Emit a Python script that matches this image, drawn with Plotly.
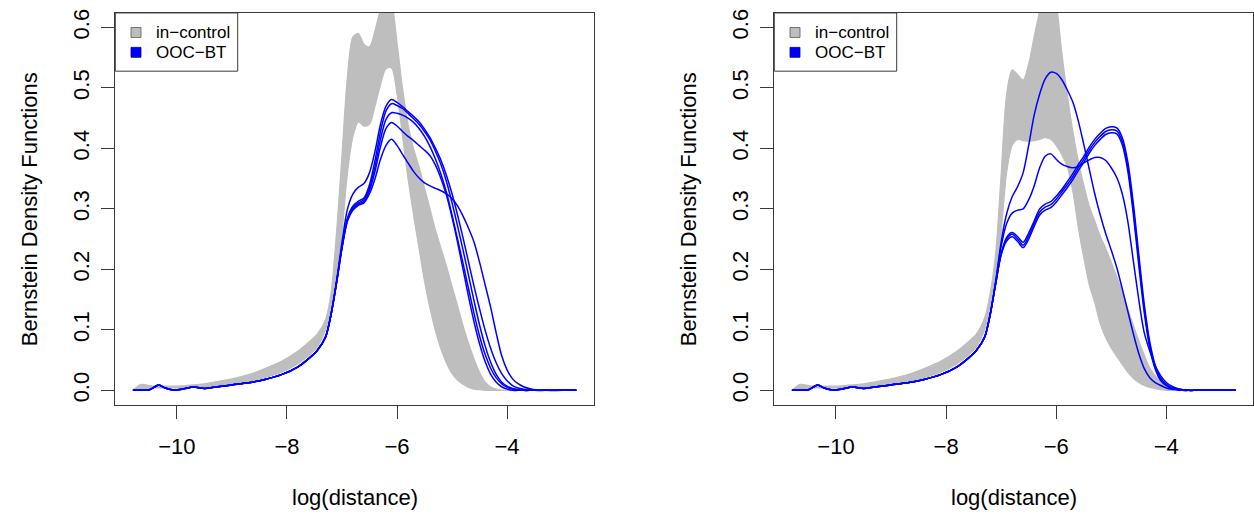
import plotly.graph_objects as go

W, H = 1254, 520

# ---------------- data ----------------
# shared left tail (x < -7.5), identical in both panels
tail_x = [-10.8, -10.65, -10.5, -10.4, -10.33, -10.2, -10.05, -9.9, -9.7, -9.5,
          -9.3, -9.0, -8.7, -8.4, -8.1, -7.8, -7.6]
blue_tail = [0.0, 0.0003, 0.001, 0.006, 0.0087, 0.0035, 0.0007, 0.002, 0.0055, 0.0032,
             0.0055, 0.009, 0.0125, 0.018, 0.026, 0.039, 0.053]
grey_tail_lo = [0.0, 0.001, 0.003, 0.004, 0.004, 0.004, 0.004, 0.004, 0.005, 0.006,
                0.0075, 0.0105, 0.015, 0.021, 0.03, 0.044, 0.058]
grey_tail_hi = [0.0, 0.010, 0.008, 0.007, 0.007, 0.007, 0.007, 0.0075, 0.009, 0.011,
                0.014, 0.019, 0.026, 0.036, 0.048, 0.065, 0.08]

body_x = [-7.45, -7.3, -7.2, -7.1, -7.0, -6.9, -6.8, -6.7, -6.6, -6.5,
          -6.4, -6.3, -6.2, -6.1, -6.0, -5.9, -5.8, -5.7, -5.6, -5.5,
          -5.4, -5.3, -5.2, -5.1, -5.0, -4.9, -4.8, -4.7, -4.6, -4.5,
          -4.4, -4.3, -4.2, -4.1, -4.0, -3.9, -3.8, -3.7, -3.6, -3.5,
          -3.3, -3.0, -2.74]

# left panel: in-control band (lower / upper envelope of the grey curves)
left_grey_lo = [0.072, 0.10, 0.135, 0.18, 0.26, 0.36, 0.42, 0.444, 0.437, 0.44,
                0.47, 0.505, 0.532, 0.533, 0.49, 0.42, 0.35, 0.29, 0.235, 0.18,
                0.135, 0.098, 0.068, 0.045, 0.028, 0.017, 0.01, 0.005, 0.002, 0.001,
                0.0, 0.0, 0.0, 0.0, 0.0, 0.0, 0.0, 0.0, 0.0, 0.0,
                0.0, 0.0, 0.0]
left_grey_hi = [0.093, 0.117, 0.16, 0.26, 0.39, 0.52, 0.585, 0.59, 0.572, 0.568,
                0.595, 0.63, 0.652, 0.64, 0.575, 0.50, 0.44, 0.40, 0.37, 0.335,
                0.30, 0.265, 0.235, 0.205, 0.172, 0.14, 0.107, 0.078, 0.052, 0.03,
                0.014, 0.006, 0.002, 0.0, 0.0, 0.0, 0.0, 0.0, 0.0, 0.0,
                0.0, 0.0, 0.0]

# left panel: OOC-BT curves
left_blue_1 = [0.066, 0.088, 0.125, 0.18, 0.245, 0.30, 0.325, 0.336, 0.342, 0.36,
               0.395, 0.44, 0.47, 0.481, 0.476, 0.469, 0.461, 0.453, 0.444, 0.432,
               0.418, 0.40, 0.38, 0.355, 0.325, 0.29, 0.252, 0.212, 0.172, 0.135,
               0.10, 0.07, 0.046, 0.028, 0.016, 0.008, 0.004, 0.002, 0.001, 0.0,
               0.0, 0.0, 0.0]
left_blue_2 = [0.066, 0.088, 0.125, 0.178, 0.238, 0.285, 0.305, 0.313, 0.318, 0.34,
               0.38, 0.428, 0.462, 0.474, 0.471, 0.466, 0.458, 0.449, 0.44, 0.428,
               0.414, 0.395, 0.373, 0.345, 0.31, 0.272, 0.232, 0.19, 0.148, 0.108,
               0.074, 0.047, 0.027, 0.014, 0.007, 0.003, 0.001, 0.0, 0.0, 0.0,
               0.0, 0.0, 0.0]
left_blue_3 = [0.066, 0.088, 0.125, 0.178, 0.237, 0.283, 0.303, 0.31, 0.315, 0.335,
               0.37, 0.415, 0.448, 0.459, 0.458, 0.455, 0.45, 0.443, 0.433, 0.42,
               0.403, 0.382, 0.357, 0.327, 0.29, 0.25, 0.21, 0.168, 0.127, 0.09,
               0.06, 0.037, 0.021, 0.011, 0.005, 0.002, 0.001, 0.0, 0.0, 0.0,
               0.0, 0.0, 0.0]
left_blue_4 = [0.066, 0.088, 0.125, 0.177, 0.236, 0.282, 0.30, 0.308, 0.312, 0.33,
               0.362, 0.403, 0.433, 0.443, 0.437, 0.428, 0.42, 0.413, 0.405, 0.397,
               0.388, 0.372, 0.35, 0.322, 0.286, 0.245, 0.20, 0.155, 0.113, 0.077,
               0.048, 0.027, 0.014, 0.006, 0.002, 0.0, 0.0, 0.0, 0.0, 0.0,
               0.0, 0.0, 0.0]
left_blue_5 = [0.066, 0.088, 0.125, 0.177, 0.235, 0.28, 0.298, 0.306, 0.31, 0.325,
               0.35, 0.382, 0.405, 0.415, 0.405, 0.39, 0.376, 0.362, 0.351, 0.343,
               0.338, 0.334, 0.33, 0.325, 0.317, 0.305, 0.288, 0.268, 0.245, 0.212,
               0.175, 0.138, 0.096, 0.058, 0.034, 0.019, 0.011, 0.006, 0.003, 0.001,
               0.0, 0.0, 0.0]

# right panel: in-control band
right_grey_lo = [0.072, 0.10, 0.133, 0.175, 0.26, 0.36, 0.405, 0.415, 0.413, 0.412,
                 0.413, 0.415, 0.418, 0.415, 0.405, 0.39, 0.37, 0.33, 0.27, 0.22,
                 0.175, 0.145, 0.11, 0.087, 0.07, 0.056, 0.043, 0.03, 0.02, 0.013,
                 0.008, 0.005, 0.003, 0.001, 0.0, 0.0, 0.0, 0.0, 0.0, 0.0,
                 0.0, 0.0, 0.0]
right_grey_hi = [0.093, 0.12, 0.16, 0.226, 0.357, 0.49, 0.53, 0.522, 0.513, 0.54,
                 0.585, 0.628, 0.67, 0.675, 0.64, 0.56, 0.49, 0.43, 0.38, 0.34,
                 0.305, 0.28, 0.255, 0.235, 0.212, 0.188, 0.162, 0.135, 0.108, 0.082,
                 0.058, 0.037, 0.024, 0.015, 0.008, 0.003, 0.001, 0.0, 0.0, 0.0,
                 0.0, 0.0, 0.0]

# right panel: OOC-BT curves
right_blue_1 = [0.066, 0.088, 0.125, 0.18, 0.245, 0.292, 0.32, 0.337, 0.36, 0.405,
                0.455, 0.49, 0.515, 0.526, 0.524, 0.514, 0.497, 0.477, 0.446, 0.407,
                0.366, 0.325, 0.29, 0.259, 0.232, 0.203, 0.168, 0.131, 0.094, 0.061,
                0.036, 0.021, 0.013, 0.008, 0.004, 0.002, 0.001, 0.0, 0.0, 0.0,
                0.0, 0.0, 0.0]
right_blue_2 = [0.066, 0.088, 0.125, 0.178, 0.238, 0.276, 0.293, 0.298, 0.30, 0.315,
                0.338, 0.368, 0.387, 0.391, 0.382, 0.374, 0.37, 0.368, 0.37, 0.376,
                0.381, 0.385, 0.385, 0.38, 0.368, 0.352, 0.325, 0.28, 0.215, 0.15,
                0.095, 0.065, 0.04, 0.024, 0.013, 0.007, 0.003, 0.001, 0.0, 0.0,
                0.0, 0.0, 0.0]
right_blue_3 = [0.066, 0.088, 0.125, 0.176, 0.226, 0.253, 0.261, 0.254, 0.245, 0.26,
                0.28, 0.30, 0.308, 0.312, 0.321, 0.332, 0.345, 0.358, 0.373, 0.387,
                0.402, 0.415, 0.425, 0.433, 0.436, 0.434, 0.418, 0.378, 0.31, 0.225,
                0.142, 0.08, 0.041, 0.02, 0.01, 0.005, 0.002, 0.001, 0.0, 0.0,
                0.0, 0.0, 0.0]
right_blue_4 = [0.066, 0.088, 0.125, 0.176, 0.225, 0.25, 0.258, 0.25, 0.24, 0.255,
                0.276, 0.295, 0.303, 0.307, 0.316, 0.328, 0.34, 0.353, 0.368, 0.382,
                0.397, 0.41, 0.42, 0.428, 0.431, 0.429, 0.412, 0.37, 0.30, 0.215,
                0.135, 0.075, 0.038, 0.018, 0.009, 0.004, 0.002, 0.001, 0.0, 0.0,
                0.0, 0.0, 0.0]
right_blue_5 = [0.066, 0.088, 0.125, 0.176, 0.224, 0.247, 0.254, 0.246, 0.236, 0.25,
                0.271, 0.29, 0.298, 0.302, 0.311, 0.323, 0.335, 0.348, 0.363, 0.377,
                0.392, 0.405, 0.415, 0.423, 0.426, 0.424, 0.406, 0.363, 0.292, 0.207,
                0.128, 0.07, 0.035, 0.016, 0.008, 0.003, 0.001, 0.0, 0.0, 0.0,
                0.0, 0.0, 0.0]

x_ticks = [-10, -8, -6, -4]
y_ticks = [0.0, 0.1, 0.2, 0.3, 0.4, 0.5, 0.6]
legend_labels = ["in\u2212control", "OOC\u2212BT"]
x_title = "log(distance)"
y_title = "Bernstein Density Functions"

# ---------------- styling ----------------
GREY = "#BEBEBE"
BLUE = "#0000FF"
AXC = "#3a3a3a"
FONT = "Liberation Sans, Arial, Helvetica, sans-serif"
FS = 22
LEG_FS = 17

# plot-area pixel boxes
panels = [
    dict(x0=115.3, x1=594.0, xa="x", ya="y",
         lo=left_grey_lo, hi=left_grey_hi,
         blues=[left_blue_1, left_blue_2, left_blue_3, left_blue_4, left_blue_5]),
    dict(x0=774.3, x1=1253.3, xa="x2", ya="y2",
         lo=right_grey_lo, hi=right_grey_hi,
         blues=[right_blue_1, right_blue_2, right_blue_3, right_blue_4, right_blue_5]),
]
PY0, PY1 = 9.0, 404.0  # top / bottom of plot area in px

xs = tail_x + body_x
fig = go.Figure()
for p in panels:
    lo = grey_tail_lo + p["lo"]
    hi = grey_tail_hi + p["hi"]
    fig.add_trace(go.Scatter(x=xs, y=lo, mode="lines", xaxis=p["xa"], yaxis=p["ya"],
                             line=dict(color=GREY, width=1.2, shape="spline", smoothing=0.8),
                             showlegend=False, hoverinfo="skip"))
    fig.add_trace(go.Scatter(x=xs, y=hi, mode="lines", xaxis=p["xa"], yaxis=p["ya"],
                             fill="tonexty", fillcolor=GREY,
                             line=dict(color=GREY, width=1.2, shape="spline", smoothing=0.8),
                             showlegend=False, hoverinfo="skip"))
    for b in p["blues"]:
        fig.add_trace(go.Scatter(x=xs, y=blue_tail + b, mode="lines",
                                 xaxis=p["xa"], yaxis=p["ya"],
                                 line=dict(color=BLUE, width=1.5, shape="spline", smoothing=0.8),
                                 showlegend=False, hoverinfo="skip"))

def px2fx(px):
    return px / W

def py2fy(py):
    return 1 - py / H

axis_common = dict(showgrid=False, zeroline=False, showline=True, mirror=True,
                   linecolor=AXC, linewidth=1, ticks="outside", ticklen=13,
                   tickwidth=1, tickcolor=AXC,
                   tickfont=dict(family=FONT, size=FS, color="#000"))

layout = dict(width=W, height=H, autosize=False,
              margin=dict(l=0, r=0, t=0, b=0, pad=0),
              paper_bgcolor="white", plot_bgcolor="white",
              showlegend=False, font=dict(family=FONT, size=FS, color="#000"))

shapes = []
annotations = []
for i, p in enumerate(panels):
    sx = "" if i == 0 else "2"
    layout["xaxis" + sx] = dict(axis_common, domain=[px2fx(p["x0"]), px2fx(p["x1"])],
                                range=[-11.12, -2.42], tickvals=x_ticks,
                                anchor="y" + sx, ticklabelstandoff=9)
    layout["yaxis" + sx] = dict(axis_common, domain=[py2fy(PY1), py2fy(PY0)],
                                range=[-0.024, 0.624], tickvals=y_ticks,
                                tickformat=".1f", tickangle=-90,
                                anchor="x" + sx, ticklabelstandoff=4)
    # axis titles
    annotations.append(dict(text=x_title, xref="paper", yref="paper",
                            x=px2fx((p["x0"] + p["x1"]) / 2), y=py2fy(497),
                            xanchor="center", yanchor="middle", showarrow=False,
                            font=dict(family=FONT, size=FS, color="#000")))
    annotations.append(dict(text=y_title, xref="paper", yref="paper",
                            x=px2fx(p["x0"] - 85), y=py2fy((PY0 + PY1) / 2),
                            xanchor="center", yanchor="middle", showarrow=False,
                            textangle=-90,
                            font=dict(family=FONT, size=FS, color="#000")))
    # legend box
    lx0 = p["x0"]
    shapes.append(dict(type="rect", xref="paper", yref="paper",
                       x0=px2fx(lx0), x1=px2fx(lx0 + 122.4),
                       y0=py2fy(67.7), y1=py2fy(PY0),
                       line=dict(color=AXC, width=1), fillcolor="white", layer="above"))
    for j, (lab, col) in enumerate(zip(legend_labels, [GREY, BLUE])):
        cy = 28.7 + 20.0 * j
        shapes.append(dict(type="rect", xref="paper", yref="paper",
                           x0=px2fx(lx0 + 15.7), x1=px2fx(lx0 + 25.7),
                           y0=py2fy(cy + 5), y1=py2fy(cy - 5),
                           line=dict(color="#555555" if j == 0 else "#00008b", width=0.8),
                           fillcolor=col, layer="above"))
        annotations.append(dict(text=lab, xref="paper", yref="paper",
                                x=px2fx(lx0 + 38.5), y=py2fy(cy),
                                xanchor="left", yanchor="middle", showarrow=False,
                                font=dict(family=FONT, size=LEG_FS, color="#000")))

layout["shapes"] = shapes
layout["annotations"] = annotations
fig.update_layout(**layout)
fig.write_html("out.html")
